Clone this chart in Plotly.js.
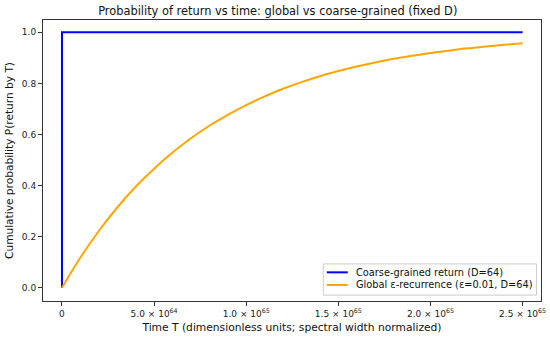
<!DOCTYPE html>
<html>
<head>
<meta charset="utf-8">
<script src="https://cdn.plot.ly/plotly-3.0.1.min.js"></script>
<style>html,body{margin:0;padding:0;background:#fff;}#chart{width:550px;height:339px;}</style>
</head>
<body>
<div id="chart"></div>
<script>
// Time values (dimensionless)
var timeT = [0, 1e64, 2e64, 3e64, 4e64, 5e64, 6e64, 7e64, 8e64, 9e64, 1e65, 1.1e65, 1.2e65, 1.3e65,
             1.4e65, 1.5e65, 1.6e65, 1.7e65, 1.8e65, 1.9e65, 2.0e65, 2.1e65, 2.2e65, 2.3e65, 2.4e65, 2.5e65];
// Global epsilon-recurrence cumulative probability
var globalProb = [0.000, 0.118, 0.222, 0.314, 0.395, 0.466, 0.529, 0.585, 0.634, 0.677, 0.715, 0.749, 0.779, 0.805,
                  0.828, 0.848, 0.866, 0.882, 0.896, 0.908, 0.919, 0.928, 0.937, 0.944, 0.951, 0.957];
// Coarse-grained return (jumps to 1 immediately)
var coarseT = [0, 0, 2.5e65];
var coarseProb = [0, 1, 1];

var seriesNames = ["Coarse-grained return (D=64)", "Global ε-recurrence (ε=0.01, D=64)"];
var seriesColors = ["#0000ff", "#ffa500"];
var xTickVals = [0, 5e64, 1e65, 1.5e65, 2e65, 2.5e65];
var xTickText = ["0", "5.0 × 10<sup>64</sup>", "1.0 × 10<sup>65</sup>", "1.5 × 10<sup>65</sup>", "2.0 × 10<sup>65</sup>", "2.5 × 10<sup>65</sup>"];
var yTickVals = [0, 0.2, 0.4, 0.6, 0.8, 1.0];
var yTickText = ["0.0", "0.2", "0.4", "0.6", "0.8", "1.0"];

var font = "DejaVu Sans, sans-serif";
var traces = [
  {x: coarseT, y: coarseProb, mode: "lines", name: seriesNames[0],
   line: {color: seriesColors[0], width: 2}},
  {x: timeT, y: globalProb, mode: "lines", name: seriesNames[1],
   line: {color: seriesColors[1], width: 2, shape: "spline"}}
];
var axisCommon = {showgrid: false, zeroline: false, showline: true, mirror: true,
  linecolor: "#333", linewidth: 1, ticks: "outside", ticklen: 4, tickcolor: "#333",
  tickfont: {family: font, size: 9, color: "#222"}};

// custom compact legend (matplotlib style), positions in plot-area fractions
var legBox = {x0: 0.563, x1: 0.991, y0: 0.021, y1: 0.132};
var legRows = [0.102, 0.057];
var shapes = [{type: "rect", xref: "paper", yref: "paper", x0: legBox.x0, x1: legBox.x1, y0: legBox.y0, y1: legBox.y1,
  line: {color: "#cccccc", width: 1}, fillcolor: "rgba(255,255,255,0.85)", layer: "above"}];
var annotations = [];
for (var i = 0; i < seriesNames.length; i++) {
  shapes.push({type: "line", xref: "paper", yref: "paper", x0: 0.570, x1: 0.612, y0: legRows[i], y1: legRows[i],
    line: {color: seriesColors[i], width: 2}, layer: "above"});
  annotations.push({xref: "paper", yref: "paper", x: 0.625, y: legRows[i], xanchor: "left", yanchor: "middle",
    text: seriesNames[i], showarrow: false, font: {family: font, size: 9.8, color: "#111"}});
}

var layout = {
  width: 550, height: 339,
  margin: {l: 43, r: 9, t: 20, b: 38},
  paper_bgcolor: "#fff", plot_bgcolor: "#fff",
  title: {text: "Probability of return vs time: global vs coarse-grained (fixed D)",
          font: {family: font, size: 11.4, color: "#111"}, x: 0.505, xanchor: "center", y: 0.968, yanchor: "middle"},
  xaxis: Object.assign({}, axisCommon, {range: [-1.03e64, 2.6e65], tickmode: "array",
    tickvals: xTickVals, ticktext: xTickText,
    title: {text: "Time T (dimensionless units; spectral width normalized)", font: {family: font, size: 10.7, color: "#111"}, standoff: 5}}),
  yaxis: Object.assign({}, axisCommon, {range: [-0.052, 1.048], tickmode: "array",
    tickvals: yTickVals, ticktext: yTickText,
    title: {text: "Cumulative probability P(return by T)", font: {family: font, size: 10.6, color: "#111"}, standoff: 6}}),
  showlegend: false,
  shapes: shapes,
  annotations: annotations
};
Plotly.newPlot("chart", traces, layout, {staticPlot: true, displayModeBar: false});
</script>
</body>
</html>
